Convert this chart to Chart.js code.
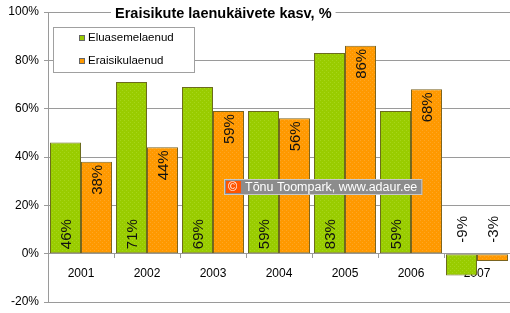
<!DOCTYPE html>
<html>
<head>
<meta charset="utf-8">
<script src="https://cdn.jsdelivr.net/npm/chart.js@4"></script>
<style>
  html, body { margin: 0; padding: 0; background: #fff; }
  #wrap { width: 510px; height: 313px; }
</style>
</head>
<body>
<div id="wrap"><canvas id="chart" width="510" height="313"></canvas></div>
<script>
const years = ['2001', '2002', '2003', '2004', '2005', '2006', '2007'];
const eluasemelaenud = [46, 71, 69, 59, 83, 59, -9];
const eraisikulaenud = [38, 44, 59, 56, 86, 68, -3];
const yMin = -20, yMax = 100, yStep = 20;

const titleText = 'Eraisikute laenukäivete kasv, %';
const seriesNames = ['Eluasemelaenud', 'Eraisikulaenud'];
const copyright = 'Tõnu Toompark, www.adaur.ee';

const FONT = '"Liberation Sans", Arial, sans-serif';
const GREEN = '#99cc00', ORANGE = '#ff9900', GRID = '#9a9a9a';

// faint dotted fill like the original bars
function dotted(base, dot) {
  const c = document.createElement('canvas');
  c.width = 4; c.height = 4;
  const g = c.getContext('2d');
  g.fillStyle = base;
  g.fillRect(0, 0, 4, 4);
  g.fillStyle = dot;
  g.fillRect(0, 0, 1, 1);
  g.fillRect(2, 2, 1, 1);
  return g.createPattern(c, 'repeat');
}

// value labels, rotated, green at the base and orange at the bar end
const barLabels = {
  id: 'barLabels',
  afterDatasetsDraw(chart) {
    const ctx = chart.ctx;
    const zeroY = chart.scales.y.getPixelForValue(0);
    ctx.save();
    ctx.font = '15px ' + FONT;
    ctx.fillStyle = '#111';
    ctx.textBaseline = 'middle';
    chart.data.datasets.forEach((ds, i) => {
      chart.getDatasetMeta(i).data.forEach((bar, j) => {
        const v = ds.data[j];
        ctx.save();
        if (v < 0) {
          ctx.translate(bar.x, zeroY - 11);
          ctx.textAlign = 'left';
        } else if (i === 0) {
          ctx.translate(bar.x, bar.base - 4);
          ctx.textAlign = 'left';
        } else {
          ctx.translate(bar.x, bar.y + 3);
          ctx.textAlign = 'right';
        }
        ctx.rotate(-Math.PI / 2);
        ctx.fillText(v + '%', 0, 1);
        ctx.restore();
      });
    });
    ctx.restore();
  }
};

// title, legend box and the watermark
const decorations = {
  id: 'decorations',
  afterDraw(chart) {
    const ctx = chart.ctx;
    ctx.save();

    // title on white, hiding the top gridline
    ctx.font = 'bold 14.5px ' + FONT;
    const tw = ctx.measureText(titleText).width;
    ctx.fillStyle = '#fff';
    ctx.fillRect(111, 4, tw + 8, 18);
    ctx.fillStyle = '#000';
    ctx.textBaseline = 'middle';
    ctx.textAlign = 'left';
    ctx.fillText(titleText, 115, 14);

    // legend
    ctx.fillStyle = '#fff';
    ctx.fillRect(53.5, 27.5, 141, 45);
    ctx.strokeStyle = '#a0a0a0';
    ctx.lineWidth = 1;
    ctx.strokeRect(53.5, 27.5, 141, 45);
    ctx.font = '11.5px ' + FONT;
    [GREEN, ORANGE].forEach((c, k) => {
      const y = 38 + k * 23;
      ctx.fillStyle = c;
      ctx.fillRect(79, y - 3, 6, 6);
      ctx.strokeStyle = '#666';
      ctx.strokeRect(79.5, y - 2.5, 5, 5);
      ctx.fillStyle = '#000';
      ctx.fillText(seriesNames[k], 88, y);
    });

    // watermark
    ctx.font = '12.5px ' + FONT;
    const cw = ctx.measureText(copyright).width;
    const x0 = 224, y0 = 179, h = 16;
    ctx.fillStyle = '#8c8c8c';
    ctx.fillRect(x0, y0, cw + 26, h);
    ctx.strokeStyle = '#c8c8c8';
    ctx.strokeRect(x0 + 0.5, y0 + 0.5, cw + 25, h - 1);
    ctx.fillStyle = '#ff5500';
    ctx.fillRect(x0 + 2, y0 + 2, 15, h - 4);
    ctx.fillStyle = '#fff';
    ctx.fillText('©', x0 + 4, y0 + h / 2 + 1);
    ctx.fillText(copyright, x0 + 21, y0 + h / 2 + 1);

    ctx.restore();
  }
};

new Chart(document.getElementById('chart').getContext('2d'), {
  type: 'bar',
  data: {
    labels: years,
    datasets: [
      { label: seriesNames[0], data: eluasemelaenud, backgroundColor: dotted(GREEN, '#a6d61a'), borderColor: '#6b6b1e', borderWidth: 1, borderSkipped: false },
      { label: seriesNames[1], data: eraisikulaenud, backgroundColor: dotted(ORANGE, '#ffa624'), borderColor: '#7a6420', borderWidth: 1, borderSkipped: false }
    ]
  },
  options: {
    responsive: false,
    animation: false,
    events: [],
    layout: { padding: { top: 12, bottom: 11, right: 0, left: 0 } },
    datasets: { bar: { categoryPercentage: 0.94, barPercentage: 1 } },
    plugins: { legend: { display: false }, title: { display: false }, tooltip: { enabled: false } },
    scales: {
      x: {
        position: { y: 0 },
        grid: { drawOnChartArea: false, drawTicks: true, tickLength: 4, offset: true, color: GRID },
        border: { display: true, color: GRID },
        ticks: { color: '#000', font: { family: FONT, size: 12 }, padding: 9 }
      },
      y: {
        min: yMin, max: yMax,
        afterFit(scale) { scale.width = 48; scale.paddingTop = 0; scale.paddingBottom = 0; },
        grid: { color: GRID, tickLength: 4 },
        border: { color: GRID },
        ticks: { stepSize: yStep, color: '#000', font: { family: FONT, size: 12 }, padding: 5, callback: v => v + '%' }
      }
    }
  },
  plugins: [barLabels, decorations]
});
</script>
</body>
</html>
